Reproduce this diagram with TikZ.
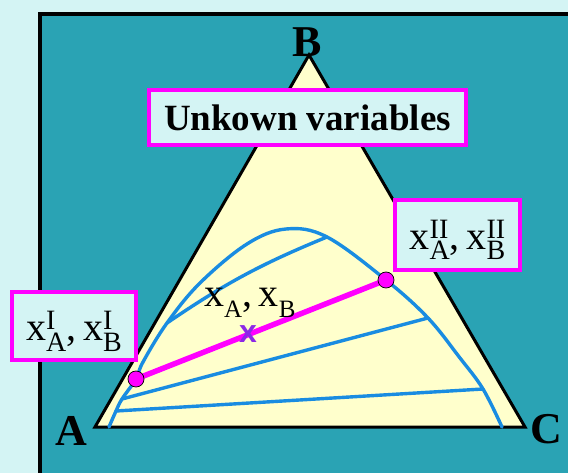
\documentclass[tikz,border=0pt]{standalone}
\usepackage{fontspec}
\setmainfont{Liberation Serif}
\setsansfont{Liberation Sans}
\usetikzlibrary{positioning}
\definecolor{paleaqua}{RGB}{212,244,244}
\definecolor{panelteal}{RGB}{42,163,180}
\definecolor{paleyellow}{RGB}{255,255,204}
\definecolor{curveblue}{RGB}{25,140,225}
\definecolor{tiemagenta}{RGB}{255,0,255}
\definecolor{mixviolet}{RGB}{140,40,230}
% x with stacked sub- and superscript
\newcommand{\molx}[2]{x\rlap{\raisebox{11pt}{\fontsize{28}{28}\selectfont #2}}\raisebox{-10pt}{\fontsize{28}{28}\selectfont #1}}
\newcommand{\molxplain}[1]{x\raisebox{-10pt}{\fontsize{25}{25}\selectfont #1}}
\newcommand{\boxtext}[1]{\raisebox{-5pt}[30pt][10pt]{#1}}

\begin{document}
\begin{tikzpicture}[
  x=1pt, y=-1pt,
  box/.style={draw=tiemagenta, line width=4pt, fill=paleaqua, inner sep=0pt, align=center, font=\fontsize{40}{44}\selectfont},
  tie/.style={curveblue, line width=3.4pt, line cap=round},
  dot/.style={circle, draw=black, line width=0.7pt, fill=tiemagenta, minimum size=16pt, inner sep=0pt},
  vlabel/.style={font=\fontsize{44}{44}\selectfont\bfseries, inner sep=0pt}
]
\fill[paleaqua] (0,0) rectangle (568,473);
\useasboundingbox (0,0) rectangle (568,473);
\draw[fill=panelteal, line width=4.5pt] (40,14) rectangle (620,520);
% triangle
\coordinate (A) at (95,427);
\coordinate (B) at (309,55);
\coordinate (C) at (525,427);
\draw[fill=paleyellow, line width=3pt, line join=miter] (A) -- (B) -- (C) -- cycle;
% binodal curve
\coordinate (p0) at (109,427);
\coordinate (t4L) at (116,411);
\coordinate (t3L) at (122,399);
\coordinate (t2L) at (136,379);
\coordinate (q0) at (143,362);
\coordinate (t1L) at (167,323);
\coordinate (q1) at (200,283);
\coordinate (q2) at (247,244);
\coordinate (top) at (286,229);
\coordinate (t1R) at (327,237);
\coordinate (t2R) at (386,280);
\coordinate (t3R) at (428,318);
\coordinate (q3) at (460,358);
\coordinate (t4R) at (483,389);
\coordinate (p1) at (502,427);
\draw[tie] plot[smooth, tension=0.6] coordinates {(p0) (t4L) (t3L) (t2L) (q0) (t1L) (q1) (q2) (top) (t1R) (t2R) (t3R) (q3) (t4R) (p1)};
% tie lines
\draw[tie] (t1L) to[bend left=6] (t1R);
\draw[tie] (t3L) -- (t3R);
\draw[tie] (t4L) -- (t4R);
\draw[line width=5.5pt, tiemagenta] (t2L) -- (t2R);
\node[dot] (dotI) at (t2L) {};
\node[dot] (dotII) at (t2R) {};
\node[text=mixviolet, inner sep=0pt, font=\sffamily\bfseries\fontsize{32}{32}\selectfont] (mix) at (248,334) {x};
% labels
\node[anchor=base west, font=\fontsize{40}{40}\selectfont, inner sep=0pt] (mixlabel) at (204,307) {\molxplain{A},\,\molxplain{B}};
\node[box, minimum width=317pt, minimum height=55pt, font=\bfseries\fontsize{37}{37}\selectfont] (unknown) at (307.5,117.5) {Unkown variables};
\node[box, minimum width=124pt, minimum height=68pt] (phaseI) at (74,326) {\boxtext{\molx{A}{I},\,\molx{B}{I}}};
\node[box, minimum width=125pt, minimum height=70pt] (phaseII) at (457.5,235) {\boxtext{\molx{A}{II},\,\molx{B}{II}}};
\node[vlabel] (labA) at (71,431) {A};
\node[vlabel] (labB) at (307,42) {B};
\node[vlabel] (labC) at (546,429) {C};
\end{tikzpicture}
\end{document}
